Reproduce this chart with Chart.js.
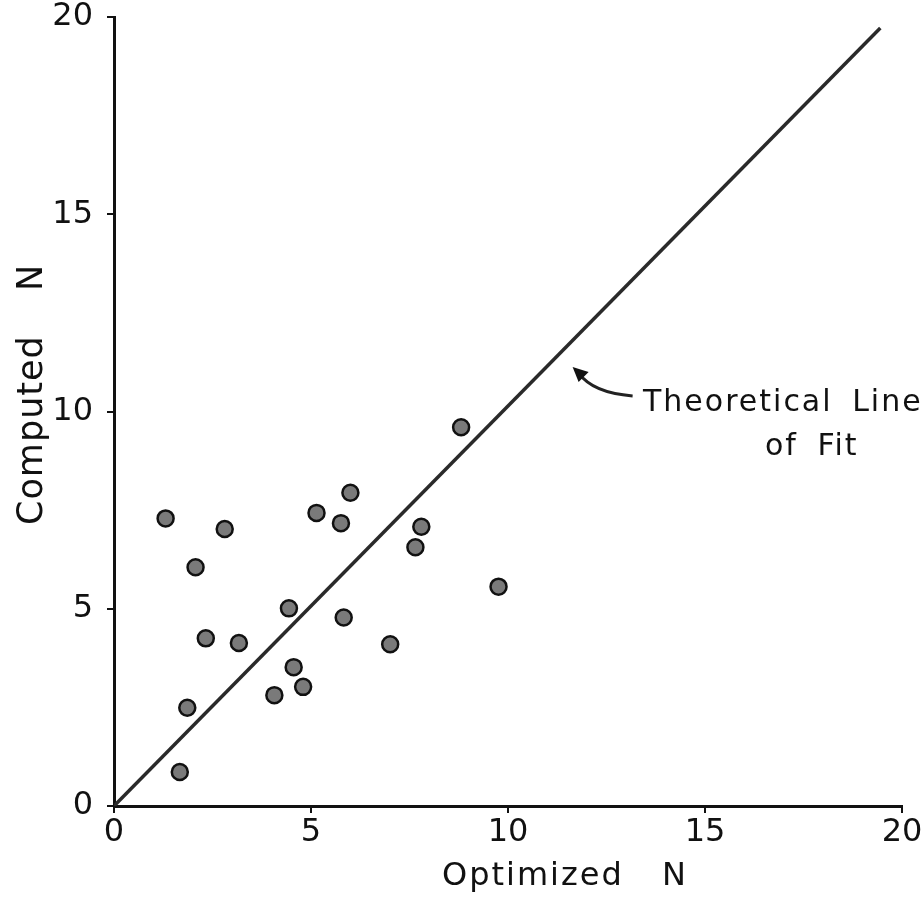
<!DOCTYPE html>
<html>
<head>
<meta charset="utf-8">
<script src="https://cdn.jsdelivr.net/npm/chart.js@4.4.0/dist/chart.umd.min.js"></script>
<style>
  body { margin: 0; background: #fff; }
  #wrap { width: 924px; height: 900px; }
</style>
</head>
<body>
<div id="wrap"><canvas id="grafica" width="924" height="900"></canvas></div>
<script>
// values
var optimizedN = [1.31, 2.81, 2.07, 5.14, 6.00, 5.76, 7.80, 7.65, 9.76, 4.44, 5.83, 2.33, 3.17, 7.01, 4.56, 4.80, 4.07, 1.86, 1.67, 8.81];
var computedN  = [7.29, 7.02, 6.05, 7.43, 7.94, 7.17, 7.08, 6.56, 5.56, 5.01, 4.78, 4.25, 4.13, 4.10, 3.52, 3.02, 2.81, 2.49, 0.86, 9.60];

// theoretical line of fit (end points)
var lineX = [0, 19.45];
var lineY = [0, 19.72];

var tickValues = [0, 5, 10, 15, 20];

var puntos = optimizedN.map(function (x, i) { return { x: x, y: computedN[i] }; });
var linea = lineX.map(function (x, i) { return { x: x, y: lineY[i] }; });

var fuente = '"DejaVu Sans", sans-serif';

// titles + arrow note, drawn on top
var rotulos = {
  id: 'rotulos',
  afterDraw: function (chart) {
    var c = chart.ctx;
    var sx = chart.scales.x, sy = chart.scales.y;
    c.save();
    c.fillStyle = '#111';
    c.strokeStyle = '#222';
    c.textAlign = 'left';
    c.textBaseline = 'alphabetic';

    // x title
    c.letterSpacing = '2px';
    c.font = '32px ' + fuente;
    c.wordSpacing = '26px';
    c.fillText('Optimized N', 442, 885);

    // y title
    c.save();
    c.translate(42, 525);
    c.rotate(-Math.PI / 2);
    c.letterSpacing = '1px';
    c.font = '35px ' + fuente;
    c.wordSpacing = '32px';
    c.fillText('Computed N', 0, 0);
    c.restore();

    // note
    c.wordSpacing = '8px';
    c.letterSpacing = '2px';
    c.font = '30px ' + fuente;
    c.fillText('Theoretical Line', 643, 411);
    c.fillText('of Fit', 765, 455);

    // arrow pointing at the line
    var hx = sx.getPixelForValue(11.64), hy = sy.getPixelForValue(11.13);
    c.lineWidth = 3;
    c.beginPath();
    c.moveTo(hx + 6, hy + 6);
    c.quadraticCurveTo(hx + 20, hy + 26, hx + 60, hy + 29);
    c.stroke();
    c.beginPath();
    c.moveTo(hx, hy);
    c.lineTo(hx + 16, hy + 5);
    c.lineTo(hx + 6, hy + 15);
    c.closePath();
    c.fill();
    c.restore();
  }
};

var ejeComun = {
  min: 0,
  max: 20,
  grid: { drawOnChartArea: false, drawTicks: true, tickLength: 7, tickColor: '#111', lineWidth: 2 },
  border: { display: true, color: '#111', width: 3 },
  ticks: { stepSize: 5, color: '#111', font: { family: 'DejaVu Sans', size: 32 } }
};

new Chart(document.getElementById('grafica').getContext('2d'), {
  type: 'scatter',
  data: {
    datasets: [
      {
        label: 'Theoretical Line of Fit',
        data: linea,
        showLine: true,
        borderColor: '#2a2a2a',
        borderWidth: 3.5,
        pointRadius: 0
      },
      {
        label: 'Computed N',
        data: puntos,
        backgroundColor: '#7a7a7a',
        borderColor: '#111',
        borderWidth: 2.5,
        pointRadius: 8
      }
    ]
  },
  options: {
    responsive: false,
    animation: false,
    layout: { autoPadding: false, padding: { top: 17, right: 22, left: 0, bottom: 0 } },
    plugins: { legend: { display: false }, tooltip: { enabled: false } },
    scales: {
      x: Object.assign({}, ejeComun, {
        afterFit: function (s) { s.height = 94; s.paddingLeft = 0; s.paddingRight = 0; },
        afterBuildTicks: function (s) { s.ticks = tickValues.map(function (v) { return { value: v }; }); },
        ticks: Object.assign({}, ejeComun.ticks, { padding: 0 })
      }),
      y: Object.assign({}, ejeComun, {
        afterFit: function (s) { s.width = 114; s.paddingTop = 0; s.paddingBottom = 0; },
        afterBuildTicks: function (s) { s.ticks = tickValues.map(function (v) { return { value: v }; }); },
        ticks: Object.assign({}, ejeComun.ticks, { padding: 14 })
      })
    }
  },
  plugins: [rotulos]
});
</script>
</body>
</html>
